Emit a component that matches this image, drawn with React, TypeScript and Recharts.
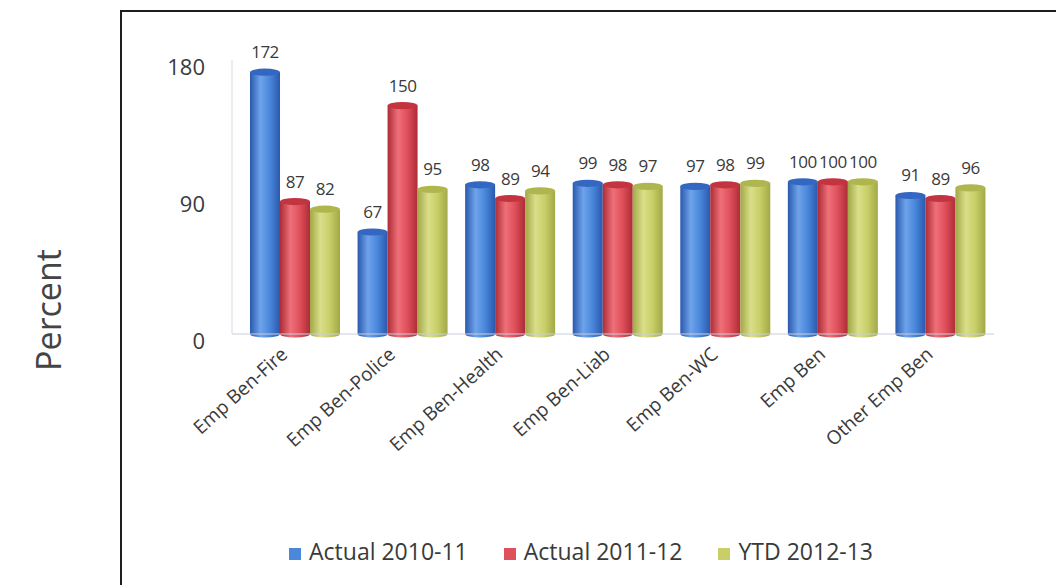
import { Bar, BarChart, LabelList, Legend, XAxis, YAxis } from "recharts";

const categories = ["Emp Ben-Fire", "Emp Ben-Police", "Emp Ben-Health", "Emp Ben-Liab", "Emp Ben-WC", "Emp Ben", "Other Emp Ben"];
const actual1011 = [172, 67, 98, 99, 97, 100, 91];
const actual1112 = [87, 150, 89, 98, 98, 100, 89];
const ytd1213 = [82, 95, 94, 97, 99, 100, 96];
const yTicks = [0, 90, 180];

const data = categories.map((name, i) => ({
  name,
  a1011: actual1011[i],
  a1112: actual1112[i],
  ytd: ytd1213[i],
}));

const FONT = "'Open Sans', sans-serif";
const TEXT = "#3a3a3a";

const series = [
  { key: "a1011", label: "Actual 2010-11", color: "#4a88dc", edge: "#2a59ad", light: "#6fa3ea", top: "#3467c2" },
  { key: "a1112", label: "Actual 2011-12", color: "#e0505b", edge: "#ad2c36", light: "#ee7079", top: "#c23440" },
  { key: "ytd", label: "YTD 2012-13", color: "#c9cf68", edge: "#a1a846", light: "#dade8a", top: "#b0b64e" },
];

// cylinder look: gradient body plus an ellipse cap
function cylinder(gradId: string, top: string) {
  return (props: any) => {
    const { x, y, width, height } = props;
    if (!height || height <= 0) return <g />;
    const rx = width / 2;
    const ry = width * 0.12;
    const d = `M${x},${y} v${height} a${rx},${ry} 0 0 0 ${width},0 v${-height} Z`;
    return (
      <g>
        <path d={d} fill={`url(#${gradId})`} />
        <ellipse cx={x + rx} cy={y} rx={rx} ry={ry} fill={top} />
      </g>
    );
  };
}

function SlantTick(props: any) {
  const { x, y, payload } = props;
  return (
    <g transform={`translate(${x - 6},${y + 14})`}>
      <text transform="rotate(-42)" textAnchor="end" fontFamily={FONT} fontSize={19} fill={TEXT}>
        {payload.value}
      </text>
    </g>
  );
}

function YTick(props: any) {
  const { x, y, payload } = props;
  return (
    <text x={x} y={y + 7} dy="0.355em" textAnchor="end" fontFamily={FONT} fontSize={22} fill={TEXT}>
      {payload.value}
    </text>
  );
}

export default function App() {
  return (
    <div style={{ position: "relative", width: 1056, height: 585, overflow: "hidden", background: "#fff" }}>
      <style>{"body{margin:0}"}</style>
      <div
        style={{
          position: "absolute",
          left: 48,
          top: 310,
          transform: "translate(-50%,-50%) rotate(-90deg)",
          fontFamily: FONT,
          fontSize: 34,
          color: "#444",
          whiteSpace: "nowrap",
        }}
      >
        Percent
      </div>
      <div
        style={{
          position: "absolute",
          left: 120,
          top: 10,
          width: 960,
          height: 600,
          border: "2px solid #1e1e1e",
        }}
      >
        <BarChart
          width={934}
          height={575}
          data={data}
          barGap={0}
          barSize={30}
          margin={{ top: 48, right: 62, left: 20, bottom: 20 }}
        >
          <defs>
            {series.map((s) => (
              <linearGradient key={s.key} id={`g-${s.key}`} x1="0" y1="0" x2="1" y2="0">
                <stop offset="0%" stopColor={s.edge} />
                <stop offset="35%" stopColor={s.light} />
                <stop offset="65%" stopColor={s.color} />
                <stop offset="100%" stopColor={s.edge} />
              </linearGradient>
            ))}
          </defs>
          <XAxis
            dataKey="name"
            height={201}
            interval={0}
            tick={<SlantTick />}
            tickLine={false}
            axisLine={{ stroke: "#c9cedb" }}
            padding={{ left: 9, right: 0 }}
          />
          <YAxis
            domain={[0, 180]}
            ticks={yTicks}
            width={90}
            tickSize={0}
            tickMargin={27}
            tickLine={false}
            axisLine={{ stroke: "#d6d9e2" }}
            tick={<YTick />}
          />
          <Legend
            verticalAlign="bottom"
            iconType="square"
            iconSize={12}
            wrapperStyle={{ fontFamily: FONT, fontSize: 23, left: 10, width: 934 }}
            formatter={(v) => <span style={{ color: TEXT, marginLeft: 4, marginRight: 26 }}>{v}</span>}
          />
          {series.map((s) => (
            <Bar
              key={s.key}
              dataKey={s.key}
              name={s.label}
              fill={s.color}
              legendType="square"
              shape={cylinder(`g-${s.key}`, s.top)}
              isAnimationActive={false}
            >
              <LabelList
                dataKey={s.key}
                position="top"
                offset={14}
                style={{ fontFamily: FONT, fontSize: 17, fill: TEXT, letterSpacing: -0.5 }}
              />
            </Bar>
          ))}
        </BarChart>
      </div>
    </div>
  );
}
